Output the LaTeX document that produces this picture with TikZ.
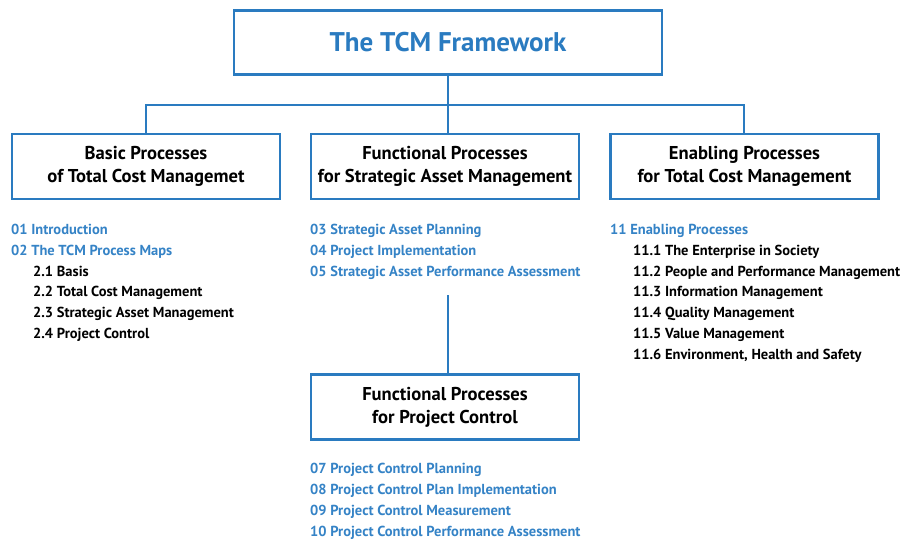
\documentclass[tikz,border=0pt]{standalone}
\usepackage{fontspec}
\setmainfont{PT Sans}
\definecolor{boxblue}{HTML}{2A7BC0}
\definecolor{txtblue}{HTML}{3583C6}
\begin{document}
\begin{tikzpicture}[x=1pt,y=-1pt,
  hbox/.style={draw=boxblue,line width=2.3pt,minimum width=268pt,minimum height=65pt,inner sep=0pt,align=center,font=\fontsize{18.6}{23}\selectfont\bfseries,text=black},
  hdr/.style={hbox,execute at begin node={\rule{0pt}{17pt}}},
  conn/.style={draw=boxblue,line width=2pt},
  item/.style={anchor=base west,inner sep=0pt,font=\fontsize{14.5}{15}\selectfont\bfseries,text=txtblue},
  sub/.style={item,text=black}]
\useasboundingbox (0,0) rectangle (904,540);
\node[hbox,minimum width=428pt,minimum height=64pt,text=boxblue,font=\fontsize{27}{30}\selectfont\bfseries] (top) at (448,42.5) {The TCM Framework};
\node[hdr] (b1) at (146,166.5) {Basic Processes\\of Total Cost Managemet};
\node[hdr] (b2) at (445,166.5) {Functional Processes\\for Strategic Asset Management};
\node[hdr] (b3) at (744.5,166.5) {Enabling Processes\\for Total Cost Management};
\node[hdr] (b4) at (445,407) {Functional Processes\\for Project Control};
\coordinate (jl) at (146,105);
\coordinate (jr) at (744,105);
\coordinate (jm) at (448,105);
\coordinate (s4) at (448,295);
\draw[conn] (top.south -| jm) -- (jm);
\draw[conn] (jl|-b1.north) -- (jl) -- (jr) -- (jr|-b3.north);
\draw[conn] (jm) -- (jm|-b2.north);
\draw[conn] (s4) -- (s4|-b4.north);
% column 1
\node[item] (i01) at (11,234) {01 Introduction};
\node[item] (i02) at (11,255) {02 The TCM Process Maps};
\node[sub] (i21) at (33,276) {2.1 Basis};
\node[sub] (i22) at (33,296.5) {2.2 Total Cost Management};
\node[sub] (i23) at (33,317.5) {2.3 Strategic Asset Management};
\node[sub] (i24) at (33,338.5) {2.4 Project Control};
% column 2
\node[item] (i03) at (310,234) {03 Strategic Asset Planning};
\node[item] (i04) at (310,255) {04 Project Implementation};
\node[item] (i05) at (310,276) {05 Strategic Asset Performance Assessment};
% column 3
\node[item] (i11) at (610,234) {11 Enabling Processes};
\node[sub] (i111) at (633,255) {11.1 The Enterprise in Society};
\node[sub] (i112) at (633,276) {11.2 People and Performance Management};
\node[sub] (i113) at (633,296.5) {11.3 Information Management};
\node[sub] (i114) at (633,317.5) {11.4 Quality Management};
\node[sub] (i115) at (633,338.5) {11.5 Value Management};
\node[sub] (i116) at (633,359.5) {11.6 Environment, Health and Safety};
% column 4
\node[item] (i07) at (310,473) {07 Project Control Planning};
\node[item] (i08) at (310,494) {08 Project Control Plan Implementation};
\node[item] (i09) at (310,515) {09 Project Control Measurement};
\node[item] (i10) at (310,536) {10 Project Control Performance Assessment};
\end{tikzpicture}
\end{document}
